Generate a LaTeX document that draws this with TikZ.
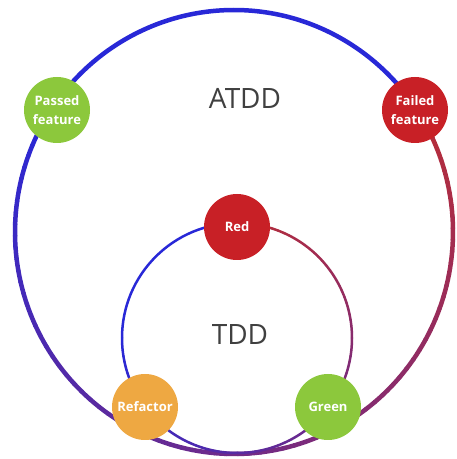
\documentclass[tikz,border=0pt]{standalone}
\usepackage{fontspec}
\setmainfont{Open Sans}
\usetikzlibrary{positioning}
\definecolor{ringblue}{RGB}{40,40,215}
\definecolor{ringred}{RGB}{185,45,55}
\definecolor{nodered}{RGB}{200,32,38}
\definecolor{nodegreen}{RGB}{140,200,60}
\definecolor{nodeorange}{RGB}{238,168,66}
\definecolor{labelgray}{RGB}{64,64,64}
\tikzstyle{phase} = [circle, minimum size=66pt, inner sep=0pt, text=white, align=center,
 font=\fontsize{13}{19}\selectfont\bfseries]
\tikzstyle{title} = [text=labelgray, font=\fontsize{28}{32}\selectfont]
\tikzstyle{ring} = [line cap=round]

\begin{document}
\begin{tikzpicture}[x=1pt,y=1pt]
        \useasboundingbox (0,0) rectangle (457,459);
        \coordinate (outc) at (234,227);
        \coordinate (innc) at (237,121);

        % outer ring, blue over the top
        \draw[ringblue, line width=4.5pt] (outc) ++(34:219 and 222) arc (34:145:219 and 222);
        \foreach \i [evaluate=\i as \p using {int(100-\i*100/82)}] in {0,...,82}
          \draw[ring, ringred!\p!ringblue, line width=4.5pt] (outc) ++(34-\i*3:219 and 222) arc (34-\i*3:31-\i*3:219 and 222);

        % inner ring
        \draw[ringblue, line width=2.5pt] (innc) ++(90:115) arc (90:180:115);
        \foreach \i [evaluate=\i as \p using {int(100-\i*100/89)}] in {0,...,89}
          \draw[ring, ringred!\p!ringblue, line width=2.5pt] (innc) ++(90-\i*3:115) arc (90-\i*3:87-\i*3:115);

        \node[phase, fill=nodegreen]  (passed)   at (57,349)  {Passed\\feature};
        \node[phase, fill=nodered]    (failed)   at (415,349) {Failed\\feature};
        \node[phase, fill=nodered]    (red)      at (237,232) {Red};
        \node[phase, fill=nodeorange] (refactor) at (145,52)  {Refactor};
        \node[phase, fill=nodegreen]  (green)    at (328,52)  {Green};

        \node[title] (atdd) at (245,361) {ATDD};
        \node[title] (tdd)  at (240,124) {TDD};
\end{tikzpicture}
\end{document}
